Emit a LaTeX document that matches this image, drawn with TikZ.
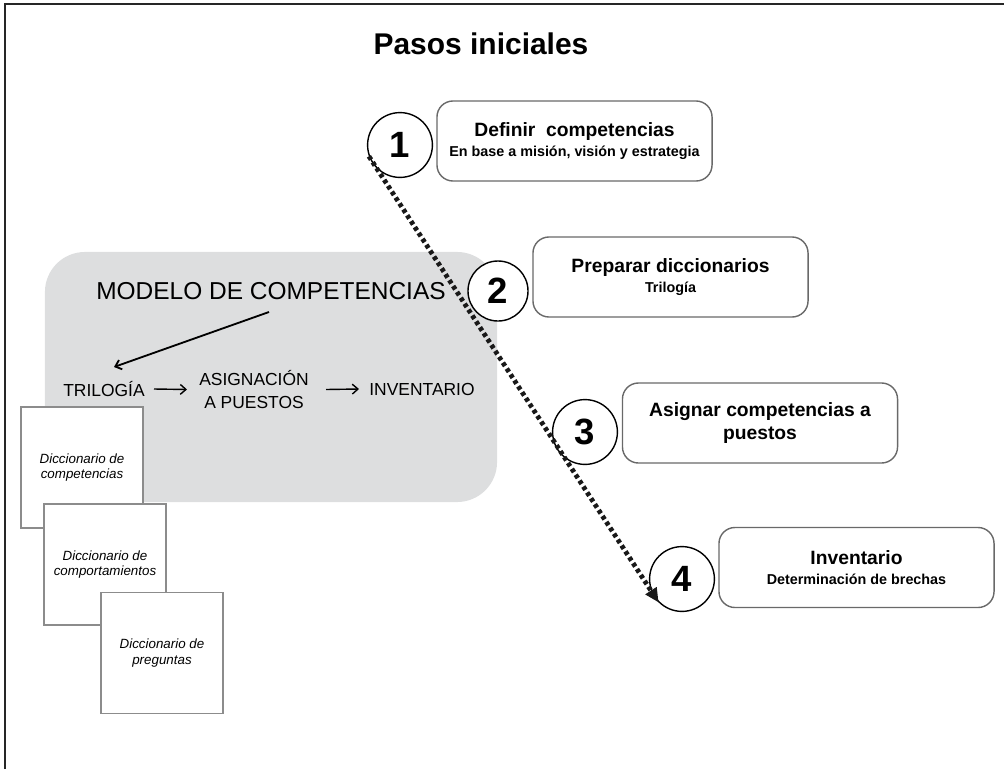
\documentclass[tikz,border=0pt]{standalone}
\usepackage{fontspec}
\setmainfont{Liberation Sans}
\usetikzlibrary{positioning,arrows.meta}
\definecolor{grismodelo}{RGB}{221,222,223}
\definecolor{bordepaso}{RGB}{105,105,105}
\definecolor{bordedicc}{RGB}{140,140,140}
\newcommand{\subpaso}{\fontsize{10.2}{12}\selectfont}

\tikzset{
	paso/.style={draw=bordepaso,line width=1pt,rounded corners=0.4cm,fill=white,
		minimum width=6.875cm,minimum height=2cm,align=center,
		font=\bfseries\fontsize{13.7}{16.4}\selectfont},
	numero/.style={circle,draw=black,line width=1pt,fill=white,minimum size=1.62cm,
		inner sep=0pt,font=\bfseries\fontsize{26}{30}\selectfont},
	dicc/.style={draw=bordedicc,line width=1.3pt,fill=white,minimum width=3.05cm,
		minimum height=3.025cm,align=center,font=\itshape\fontsize{9.5}{10.8}\selectfont},
	etiqueta/.style={inner sep=0pt,align=center,font=\fontsize{12.4}{16.4}\selectfont},
	flecha/.style={line width=1pt,-{Straight Barb[length=4pt,width=7pt]}}
}

\begin{document}
\begin{tikzpicture}[x=0.025cm,y=-0.025cm]
	\useasboundingbox (0,0) rectangle (1004,769);
	\draw[line width=1.4pt,black!85] (5,769) -- (5,4) -- (1004,4);
	\node[font=\bfseries\fontsize{21.3}{25}\selectfont] (titulo) at (481,44) {Pasos iniciales};

	\node[fill=grismodelo,rounded corners=1cm,minimum width=11.3cm,minimum height=6.25cm] (modelo) at (271,377) {};
	\node[inner sep=0pt,font=\fontsize{17.4}{20}\selectfont] (modelotit) at (271,291) {MODELO DE COMPETENCIAS};
	\node[etiqueta] (trilogia) at (104,389) {TRILOGÍA};
	\node[etiqueta] (asignacion) at (254,389.5) {ASIGNACIÓN\\A PUESTOS};
	\node[etiqueta] (inventario) at (422,389) {INVENTARIO};
	\draw[flecha,line width=1.3pt] ([shift={(-2,21)}]modelotit.center) -- ([shift={(10,-22)}]trilogia.center);
	\draw[flecha] ([shift={(50,0)}]trilogia.center) -- ([shift={(-67,0)}]asignacion.center);
	\draw[flecha] ([shift={(72,0)}]asignacion.center) -- ([shift={(-63,0)}]inventario.center);

	\node[dicc] (dicc1) at (82,467.5) {Diccionario de\\competencias};
	\node[dicc] (dicc2) at (105,564.5) {Diccionario de\\comportamientos};
	\node[dicc] (dicc3) at (162,653) {Diccionario de\\preguntas};

	\node[paso] (paso1) at (574.5,141) {Definir\ \ competencias\\[-2pt]{\subpaso En base a misión, visión y estrategia}};
	\node[paso] (paso2) at (670.5,277) {Preparar diccionarios\\[-2pt]{\subpaso Trilogía}};
	\node[paso] (paso3) at (760,423) {Asignar competencias a\\puestos};
	\node[paso] (paso4) at (856.5,567.5) {Inventario\\[-2pt]{\subpaso Determinación de brechas}};

	\node[numero] (n1) at (400,145) {1};
	\node[numero,minimum size=1.5cm] (n2) at (498,291) {2};
	\node[numero] (n3) at (585,432) {3};
	\node[numero] (n4) at (682,579) {4};

	\draw[line width=3.4pt,black!90,dash pattern=on 2.8pt off 2.2pt,
		-{Triangle[length=10pt,width=9pt]}] (n1.200) -- (n4.225);
\end{tikzpicture}
\end{document}
